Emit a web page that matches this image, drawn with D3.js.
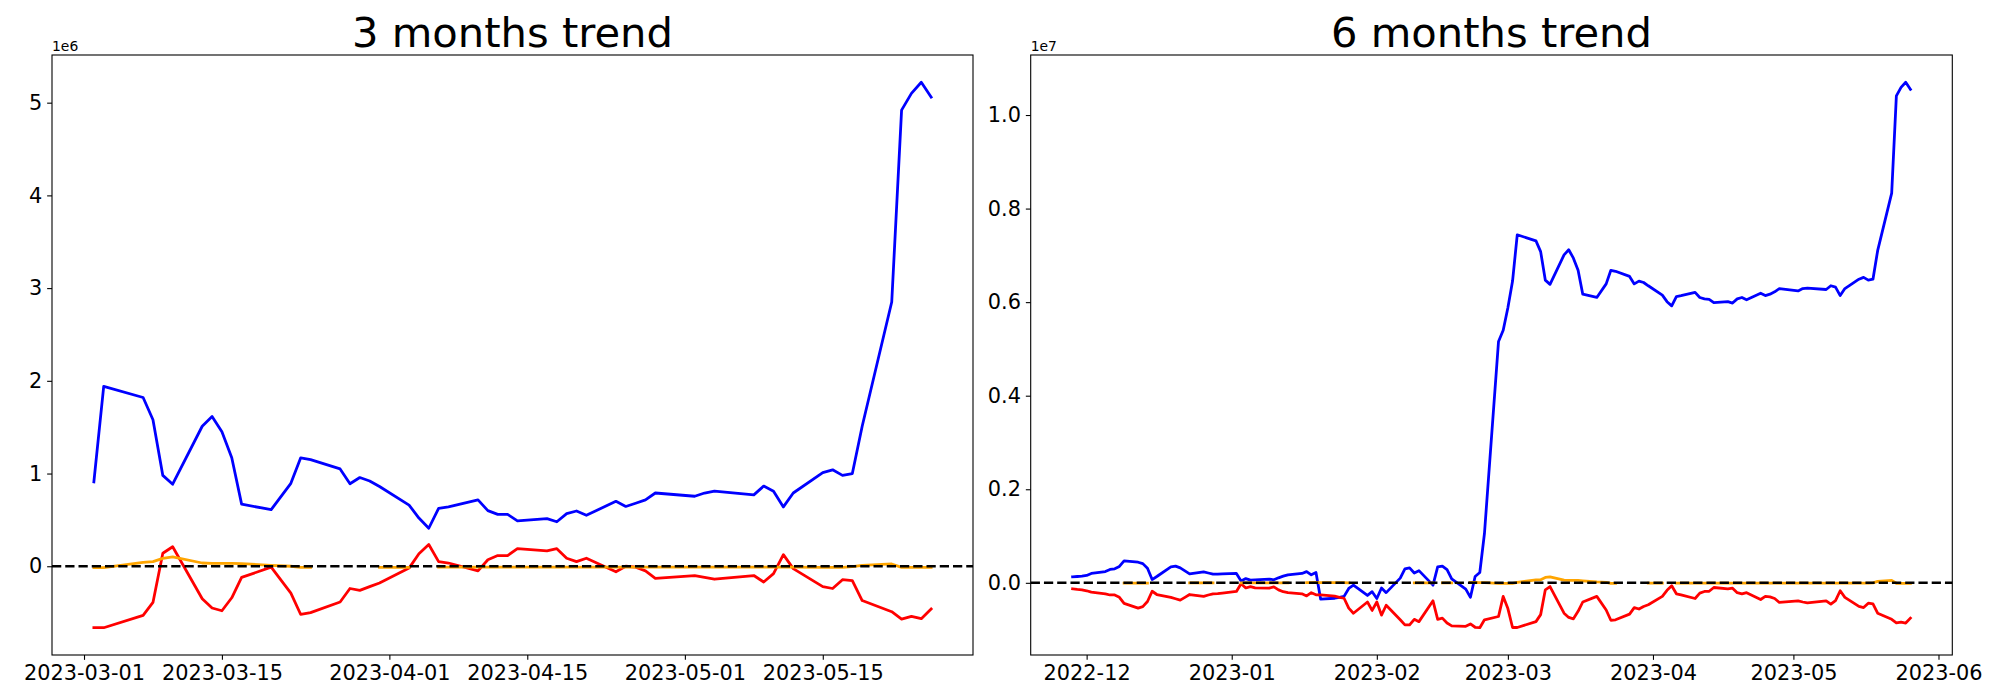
<!DOCTYPE html>
<html>
<head>
<meta charset="utf-8">
<script src="https://cdn.jsdelivr.net/npm/d3@7"></script>
<style>
  html, body { margin: 0; padding: 0; background: #fff; }
  svg { display: block; }
  text { font-family: "DejaVu Sans", sans-serif; fill: #000; }
</style>
</head>
<body>
<svg id="chart" width="2000" height="700"></svg>
<script>
// ---------------- DATA (values in millions) ----------------
// 3 months panel
const dates3 = ["2023-03-02","2023-03-03","2023-03-07","2023-03-08","2023-03-09","2023-03-10",
  "2023-03-13","2023-03-14","2023-03-15","2023-03-16","2023-03-17","2023-03-20","2023-03-22",
  "2023-03-23","2023-03-24","2023-03-27","2023-03-28","2023-03-29","2023-03-30","2023-03-31",
  "2023-04-03","2023-04-04","2023-04-05","2023-04-06","2023-04-07","2023-04-10","2023-04-11",
  "2023-04-12","2023-04-13","2023-04-14","2023-04-17","2023-04-18","2023-04-19","2023-04-20",
  "2023-04-21","2023-04-24","2023-04-25","2023-04-26","2023-04-27","2023-04-28","2023-05-02",
  "2023-05-03","2023-05-04","2023-05-08","2023-05-09","2023-05-10","2023-05-11","2023-05-12",
  "2023-05-15","2023-05-16","2023-05-17","2023-05-18","2023-05-19","2023-05-22","2023-05-23",
  "2023-05-24","2023-05-25","2023-05-26"];
const blue3 = [0.91,1.94,1.82,1.58,0.98,0.885,1.51,1.615,1.45,1.17,0.67,0.61,0.894,
  1.17,1.15,1.05,0.89,0.957,0.92,0.86,0.66,0.52,0.41,0.625,0.64,0.716,0.60,
  0.56,0.56,0.49,0.514,0.48,0.567,0.596,0.55,0.70,0.645,0.68,0.716,0.79,0.755,
  0.79,0.81,0.77,0.865,0.81,0.64,0.79,1.01,1.04,0.98,1.0,1.51,2.85,4.92,
  5.1,5.22,5.06];
const red3 = [-0.663,-0.663,-0.53,-0.39,0.14,0.21,-0.35,-0.45,-0.48,-0.34,-0.12,-0.01,-0.29,
  -0.52,-0.50,-0.385,-0.24,-0.26,-0.22,-0.18,-0.02,0.135,0.235,0.05,0.035,-0.05,0.07,
  0.115,0.115,0.19,0.165,0.19,0.087,0.05,0.087,-0.06,0.0,-0.01,-0.05,-0.13,-0.10,
  -0.12,-0.14,-0.10,-0.17,-0.08,0.125,-0.025,-0.22,-0.24,-0.145,-0.155,-0.37,-0.49,-0.57,
  -0.54,-0.565,-0.46];
const orange3 = [-0.015,-0.015,0.042,0.05,0.085,0.1,0.035,0.03,0.03,0.03,0.028,0.01,0.0,
  -0.012,-0.012,null,null,null,null,-0.012,-0.012,null,null,-0.01,-0.01,-0.01,-0.01,
  -0.01,-0.01,-0.01,-0.01,-0.01,-0.01,-0.01,-0.01,-0.01,-0.01,-0.01,-0.01,-0.01,-0.01,
  -0.01,-0.01,-0.01,-0.01,-0.01,-0.01,-0.01,-0.012,-0.012,-0.012,-0.005,0.01,0.025,-0.012,
  -0.012,-0.012,-0.012];
const ticks3 = ["2023-03-01","2023-03-15","2023-04-01","2023-04-15","2023-05-01","2023-05-15"];
const yTicks3 = [0,1,2,3,4,5];

// 6 months panel
const dates6 = ["2022-11-28","2022-11-29","2022-11-30","2022-12-01","2022-12-02","2022-12-05",
  "2022-12-06","2022-12-07","2022-12-08","2022-12-09","2022-12-12","2022-12-13","2022-12-14",
  "2022-12-15","2022-12-16","2022-12-19","2022-12-20","2022-12-21","2022-12-22","2022-12-23",
  "2022-12-26","2022-12-27","2022-12-28","2022-12-29","2022-12-30","2023-01-02","2023-01-03",
  "2023-01-04","2023-01-05","2023-01-06","2023-01-09","2023-01-10","2023-01-11","2023-01-12",
  "2023-01-13","2023-01-16","2023-01-17","2023-01-18","2023-01-19","2023-01-20","2023-01-23",
  "2023-01-24","2023-01-25","2023-01-26","2023-01-27","2023-01-30","2023-01-31","2023-02-01",
  "2023-02-02","2023-02-03","2023-02-06","2023-02-07","2023-02-08","2023-02-09","2023-02-10",
  "2023-02-13","2023-02-14","2023-02-15","2023-02-16","2023-02-17","2023-02-20","2023-02-21",
  "2023-02-22","2023-02-23","2023-02-24","2023-02-27","2023-02-28","2023-03-01","2023-03-02",
  "2023-03-03","2023-03-07","2023-03-08","2023-03-09","2023-03-10","2023-03-13","2023-03-14",
  "2023-03-15","2023-03-16","2023-03-17","2023-03-20","2023-03-22","2023-03-23","2023-03-24",
  "2023-03-27","2023-03-28","2023-03-29","2023-03-30","2023-03-31","2023-04-03","2023-04-04",
  "2023-04-05","2023-04-06","2023-04-07","2023-04-10","2023-04-11","2023-04-12","2023-04-13",
  "2023-04-14","2023-04-17","2023-04-18","2023-04-19","2023-04-20","2023-04-21","2023-04-24",
  "2023-04-25","2023-04-26","2023-04-27","2023-04-28","2023-05-02","2023-05-03","2023-05-04",
  "2023-05-08","2023-05-09","2023-05-10","2023-05-11","2023-05-12","2023-05-15","2023-05-16",
  "2023-05-17","2023-05-18","2023-05-19","2023-05-22","2023-05-23","2023-05-24","2023-05-25",
  "2023-05-26"];
const blue6 = [0.128,0.135,0.142,0.157,0.20,0.24,
  0.285,0.30,0.35,0.47,0.44,0.41,0.31,
  0.07,0.135,0.34,0.356,0.32,0.256,0.19,
  0.235,0.21,0.185,0.185,0.19,0.20,0.04,
  0.09,0.057,0.064,0.08,0.064,0.107,0.142,
  0.17,0.20,0.24,0.17,0.22,-0.35,-0.33,
  -0.31,-0.29,-0.12,-0.05,-0.27,-0.19,-0.335,
  -0.11,-0.21,0.10,0.30,0.32,0.21,0.26,
  -0.05,0.34,0.356,0.28,0.085,-0.135,-0.31,
  0.135,0.22,1.06,5.16,5.40,5.88,6.45,
  7.44,7.31,7.08,6.47,6.38,7.01,7.12,
  6.94,6.68,6.17,6.10,6.39,6.68,6.66,
  6.55,6.39,6.45,6.42,6.35,6.15,6.01,
  5.92,6.12,6.14,6.21,6.10,6.07,6.06,
  5.99,6.01,5.98,6.07,6.10,6.05,6.19,
  6.14,6.17,6.22,6.29,6.24,6.29,6.30,
  6.27,6.35,6.32,6.14,6.29,6.49,6.53,
  6.47,6.49,7.10,8.33,10.41,10.59,10.70,
  10.55];
const red6 = [-0.128,-0.142,-0.15,-0.17,-0.20,-0.235,
  -0.26,-0.26,-0.31,-0.44,-0.54,-0.51,-0.40,
  -0.18,-0.25,-0.31,-0.34,-0.37,-0.31,-0.25,
  -0.29,-0.26,-0.235,-0.23,-0.22,-0.185,-0.02,
  -0.11,-0.08,-0.107,-0.114,-0.085,-0.15,-0.19,
  -0.21,-0.235,-0.28,-0.21,-0.256,-0.256,-0.285,
  -0.31,-0.33,-0.54,-0.65,-0.41,-0.59,-0.41,
  -0.69,-0.48,-0.79,-0.90,-0.90,-0.78,-0.83,
  -0.385,-0.78,-0.755,-0.86,-0.92,-0.93,-0.88,
  -0.95,-0.96,-0.79,-0.72,-0.29,-0.55,-0.955,
  -0.955,-0.83,-0.68,-0.15,-0.08,-0.65,-0.74,
  -0.77,-0.61,-0.41,-0.29,-0.58,-0.80,-0.79,
  -0.67,-0.53,-0.56,-0.505,-0.47,-0.29,-0.16,
  -0.064,-0.235,-0.256,-0.335,-0.22,-0.185,-0.18,
  -0.10,-0.128,-0.114,-0.21,-0.235,-0.21,-0.356,
  -0.29,-0.30,-0.335,-0.42,-0.385,-0.41,-0.43,
  -0.385,-0.456,-0.38,-0.17,-0.31,-0.505,-0.53,
  -0.435,-0.45,-0.65,-0.78,-0.855,-0.84,-0.86,
  -0.755];
const orange6 = [null,null,null,null,null,null,
  null,null,null,-0.005,-0.005,-0.005,-0.005,
  null,null,null,null,null,null,0.0,
  0.0,0.0,0.0,null,null,null,0.0,
  0.0,0.0,0.0,0.0,0.0,0.0,0.0,
  0.0,null,0.005,0.005,0.01,0.005,0.005,
  0.005,0.005,0.0,null,null,null,null,
  null,null,null,null,null,0.0,0.0,
  0.0,null,0.0,0.0,0.0,null,0.01,
  0.01,0.005,0.005,-0.014,-0.014,-0.014,-0.01,
  0.007,0.064,0.064,0.114,0.128,0.057,0.05,
  0.05,0.05,0.043,0.02,0.01,-0.014,-0.014,
  null,null,null,null,-0.005,-0.005,null,
  null,-0.005,-0.005,-0.005,-0.005,-0.005,-0.005,
  -0.005,-0.005,-0.005,-0.005,-0.005,-0.005,-0.005,
  -0.005,-0.005,-0.005,-0.005,-0.005,-0.005,-0.005,
  -0.005,-0.005,-0.005,-0.005,-0.005,-0.005,-0.005,
  -0.005,0.0,0.03,0.05,-0.01,-0.01,-0.01,
  -0.01];
const ticks6 = ["2022-12-01","2023-01-01","2023-02-01","2023-03-01","2023-04-01","2023-05-01","2023-06-01"];
const yTicks6 = [0,2,4,6,8,10];

// ---------------- DRAW ----------------
const svg = d3.select("#chart");
const parse = d3.utcParse("%Y-%m-%d");
const TICK = 4.86, PAD = 4.86, LW = 2.78;

function pad5(ext) {
  const span = ext[1] - ext[0];
  return [ext[0] - span * 0.05, ext[1] + span * 0.05];
}

function panel(cfg) {
  const g = svg.append("g");
  const dts = cfg.dates.map(parse);
  const t0 = d3.min(dts).getTime(), t1 = d3.max(dts).getTime();
  const xd = pad5([t0, t1]);
  const x = d3.scaleUtc().domain([new Date(xd[0]), new Date(xd[1])]).range([cfg.x0, cfg.x1]);
  const all = cfg.series.flatMap(s => s.values).filter(v => v != null);
  const y = d3.scaleLinear().domain(pad5(d3.extent(all))).range([cfg.y1, cfg.y0]);

  // series
  cfg.series.forEach(s => {
    const pts = dts.map((d, i) => ({d, v: s.values[i]}));
    const line = d3.line().defined(p => p.v != null).x(p => x(p.d)).y(p => y(p.v));
    g.append("path").attr("d", line(pts)).attr("fill", "none")
      .attr("stroke", s.color).attr("stroke-width", LW)
      .attr("stroke-linejoin", "round").attr("stroke-linecap", "square");
  });

  // zero dashed line
  g.append("line").attr("x1", cfg.x0).attr("x2", cfg.x1)
    .attr("y1", y(0)).attr("y2", y(0))
    .attr("stroke", "#000").attr("stroke-width", 2.5)
    .attr("stroke-dasharray", "9.25,4");

  // axes
  const xa = g.append("g").attr("transform", `translate(0,${cfg.y1})`)
    .call(d3.axisBottom(x).tickValues(cfg.xticks.map(parse))
      .tickFormat(cfg.xfmt).tickSize(TICK).tickPadding(PAD));
  const ya = g.append("g").attr("transform", `translate(${cfg.x0},0)`)
    .call(d3.axisLeft(y).tickValues(cfg.yticks).tickFormat(cfg.yfmt).tickSize(TICK).tickPadding(PAD));
  [xa, ya].forEach(a => {
    a.select(".domain").remove();
    a.selectAll("line").attr("stroke", "#000").attr("stroke-width", 1.1);
    a.selectAll("text").attr("font-size", "20.83px").attr("font-family", "DejaVu Sans").attr("fill", "#000");
  });

  // frame
  g.append("rect").attr("x", cfg.x0).attr("y", cfg.y0)
    .attr("width", cfg.x1 - cfg.x0).attr("height", cfg.y1 - cfg.y0)
    .attr("fill", "none").attr("stroke", "#000").attr("stroke-width", 1.1);

  // offset text
  g.append("text").attr("x", cfg.x0).attr("y", cfg.y0 - 4.5)
    .attr("font-size", "13.9px").text(cfg.offset);

  // title
  g.append("text").attr("x", (cfg.x0 + cfg.x1) / 2).attr("y", cfg.y0 - 8.3)
    .attr("text-anchor", "middle").attr("font-size", "41.67px").text(cfg.title);
}

panel({
  title: "3 months trend", offset: "1e6",
  x0: 52, x1: 973, y0: 55, y1: 655,
  dates: dates3,
  series: [
    {values: blue3, color: "blue"},
    {values: red3, color: "red"},
    {values: orange3, color: "orange"}
  ],
  xticks: ticks3, xfmt: d3.utcFormat("%Y-%m-%d"),
  yticks: yTicks3, yfmt: d => String(d)
});

panel({
  title: "6 months trend", offset: "1e7",
  x0: 1030.7, x1: 1952.3, y0: 55, y1: 655,
  dates: dates6,
  series: [
    {values: blue6, color: "blue"},
    {values: red6, color: "red"},
    {values: orange6, color: "orange"}
  ],
  xticks: ticks6, xfmt: d3.utcFormat("%Y-%m"),
  yticks: yTicks6, yfmt: d => (d / 10).toFixed(1)
});
</script>
</body>
</html>
